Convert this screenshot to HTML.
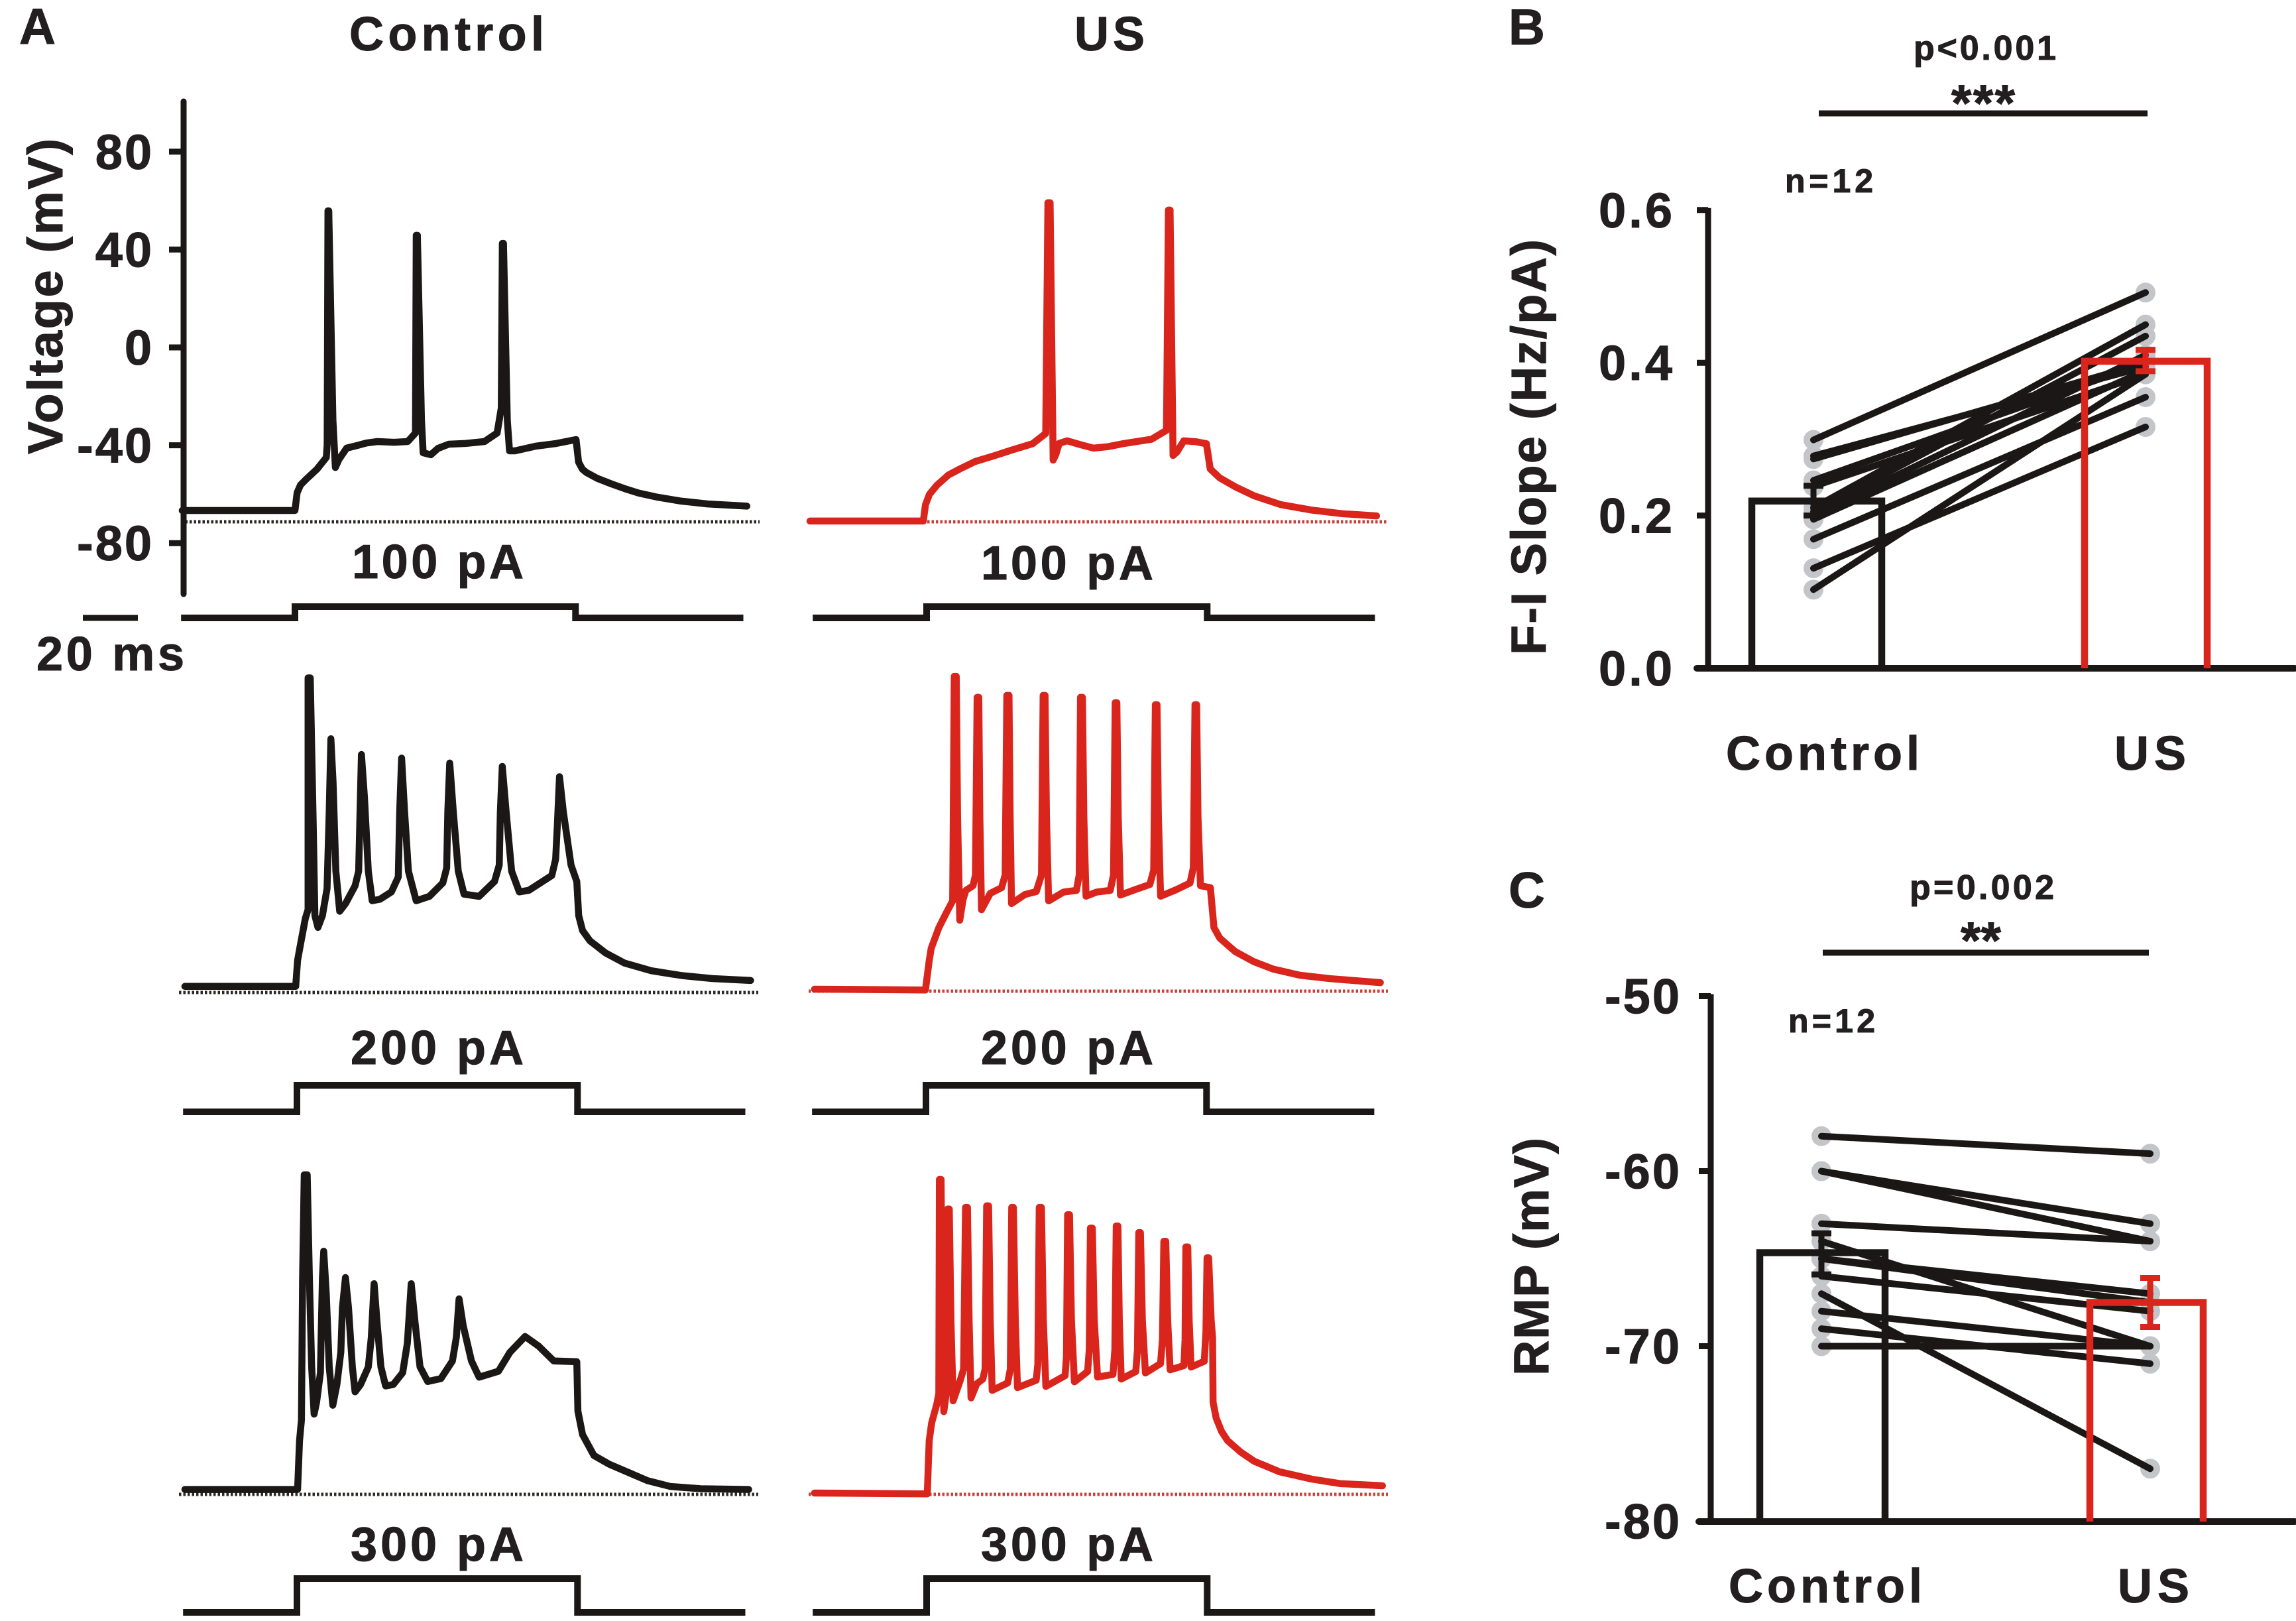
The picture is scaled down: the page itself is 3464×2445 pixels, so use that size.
<!DOCTYPE html>
<html lang="en">
<head>
<meta charset="utf-8">
<title>Current-clamp traces, F-I slope and RMP</title>
<style>
  html, body { margin: 0; padding: 0; background: #fff; }
  body { width: 3464px; height: 2445px; overflow: hidden; }
  svg { display: block; }
  text { font-family: "Liberation Sans", sans-serif; font-weight: bold; fill: #231f20; stroke: #231f20; stroke-width: 1; }
</style>
</head>
<body>
<svg id="figure" xmlns="http://www.w3.org/2000/svg" width="3464" height="2445" viewBox="0 0 3464 2445">
  <rect x="0" y="0" width="3464" height="2445" fill="#ffffff"/>

  <text x="29" y="66" font-size="76">A</text>
  <text x="2276" y="67" font-size="76">B</text>
  <text x="2276" y="1369" font-size="76">C</text>

  <text x="527" y="76" font-size="72" textLength="294" lengthAdjust="spacing">Control</text>
  <text x="1621" y="76" font-size="72" textLength="106" lengthAdjust="spacing">US</text>
  <text x="94" y="685" font-size="74" textLength="476" lengthAdjust="spacing" transform="rotate(-90 94 685)">Voltage (mV)</text>
  <text x="55" y="1011" font-size="72" textLength="223" lengthAdjust="spacing">20 ms</text>

  <text x="531" y="872" font-size="72" textLength="259" lengthAdjust="spacing">100 pA</text>
  <text x="529" y="1605" font-size="72" textLength="261" lengthAdjust="spacing">200 pA</text>
  <text x="529" y="2354" font-size="72" textLength="261" lengthAdjust="spacing">300 pA</text>
  <text x="1480" y="874" font-size="72" textLength="260" lengthAdjust="spacing">100 pA</text>
  <text x="1480" y="1605" font-size="72" textLength="260" lengthAdjust="spacing">200 pA</text>
  <text x="1480" y="2354" font-size="72" textLength="260" lengthAdjust="spacing">300 pA</text>

  <text x="2887" y="90" font-size="52" textLength="215" lengthAdjust="spacing">p&lt;0.001</text>
  <text x="2944" y="182" font-size="78" textLength="96" lengthAdjust="spacing">***</text>
  <line x1="2744" y1="171" x2="3240" y2="171" stroke="#1a1716" stroke-width="9"/>
  <text x="2693" y="290" font-size="50" textLength="133" lengthAdjust="spacing">n=12</text>
  <text x="2332" y="988" font-size="74" textLength="627" lengthAdjust="spacing" transform="rotate(-90 2332 988)">F-I Slope (Hz/pA)</text>
  <text x="2604" y="1161" font-size="72" textLength="292" lengthAdjust="spacing">Control</text>
  <text x="3190" y="1161" font-size="72" textLength="108" lengthAdjust="spacing">US</text>

  <text x="2881" y="1356" font-size="52" textLength="218" lengthAdjust="spacing">p=0.002</text>
  <text x="2958" y="1445" font-size="78" textLength="61" lengthAdjust="spacing">**</text>
  <line x1="2750" y1="1437" x2="3242" y2="1437" stroke="#1a1716" stroke-width="9"/>
  <text x="2698" y="1557" font-size="50" textLength="131" lengthAdjust="spacing">n=12</text>
  <text x="2336" y="2075" font-size="74" textLength="359" lengthAdjust="spacing" transform="rotate(-90 2336 2075)">RMP (mV)</text>
  <text x="2608" y="2417" font-size="72" textLength="292" lengthAdjust="spacing">Control</text>
  <text x="3195" y="2417" font-size="72" textLength="108" lengthAdjust="spacing">US</text>
</svg>

<script>
/* ---------- Panel A data: time (ms from stimulus onset) and membrane voltage (mV) ---------- */
const voltageTicks = [80, 40, 0, -40, -80];
const stimLevelsPa = [100, 235, 300];
const stimTiming = [-41.4, 0, 102, 163];
const restingLevelMv = -71.5;
const scaleBarMs = 20;

const control100Time = [-41,0,0.8,2,4,8,11.4,11.7,12,12.3,13.8,14.7,16,18.8,22,26,30,36,41,43.8,44.1,44.5,46,46.6,49.4,52,55.9,62,68.9,73.5,75,75.4,75.8,77.2,78,80,87.5,95,102.2,103.1,104.5,106,110,115,120,125,132,140,150,164.3];
const control100Volt = [-66.9,-66.9,-59.6,-56.5,-54.2,-50,-45.2,-40,55.6,55.6,-30,-49.3,-46,-41.4,-40.5,-39.3,-38.7,-39,-38.7,-35.2,45.6,45.6,-30,-43.3,-44.1,-41.5,-39.8,-39.5,-38.7,-35.2,-25,42.3,42.3,-30,-42.5,-42.5,-40.6,-39.5,-37.9,-47.1,-50,-51.4,-53.8,-56,-58,-59.8,-61.5,-63,-64.2,-65.1];

const us100Time = [-42.4,-1.2,-0.4,1,3.7,7.9,12.1,17.6,24.6,31.5,38.5,43.3,44.1,44.9,46,47,48.2,51.1,56,60.7,66,71.8,81.7,87.2,87.9,88.5,89.6,91,93.5,98,101.7,103.1,106.6,112.2,119.1,128.8,139.9,151,163.6];
const us100Volt = [-71.2,-71.2,-64.5,-60.3,-56.6,-52.4,-49.9,-46.9,-44.5,-42,-39.6,-35.4,58.9,58.9,-46.3,-44,-39.5,-38.4,-40,-41.4,-40.8,-39.5,-37.8,-34.1,55.9,55.9,-44.4,-43,-38.4,-38.8,-39.6,-49.9,-53.6,-57.2,-60.9,-64.5,-66.7,-68.2,-69.1];

const control200Time = [-41,-0.7,0,1,2.8,3.8,3.8,4.6,5.6,6.3,7.4,9,10.7,11.5,12.1,12.9,13.9,15.3,17.4,20.9,22.2,22.7,23.2,24.3,25.7,27.1,29.9,34.1,36.6,37.1,37.8,38.9,40.3,43.1,47.9,52.8,54.2,54.6,55.3,56.6,58.4,60.5,66,71.6,73.3,73.7,74.4,75.8,77.8,80.6,84.1,92.4,93.8,94.4,95.2,96.6,99.4,101.5,102.2,103.6,106.3,111.9,118.9,128.6,139.7,150.8,164.7];
const control200Volt = [-69,-69,-58.3,-52.2,-41.3,-37.6,57.1,57.1,2.4,-40.1,-44.9,-40.1,-29.1,2.4,32.2,14.6,-21.9,-38.3,-35.2,-27.9,-21.9,2.4,25.8,8.5,-21.9,-34,-33.4,-30.4,-24.3,2.4,24.3,2.4,-21.9,-34,-32.2,-26.7,-20.6,2.4,22.3,2.4,-21.9,-31.3,-32.2,-26.1,-19.4,2.4,20.9,2.4,-21.9,-30.4,-29.7,-23.7,-17,-3.6,16.7,2.4,-19.4,-26.1,-40.1,-46.2,-50.4,-55.3,-59.5,-62.6,-64.6,-65.8,-66.6];

const us200Time = [-40.5,-0.2,1.2,1.9,4.7,7.4,9.7,10.3,11,11.5,12.3,13.5,14.5,17.1,18,18.6,19.2,19.6,20.2,23.4,27.5,28.8,29.4,30.2,30.6,31.1,36,40.1,42,42.6,43.3,43.8,44.6,50,54.7,55.7,56.2,56.9,57.4,58.2,62,67,68.2,68.8,69.4,69.9,70.7,76,81.4,82.8,83.4,84,84.5,85.3,91,96,97.2,97.8,98.4,98.9,99.8,103.4,104.7,106.8,112.4,119.3,126.3,136,147.1,165.2];
const us200Volt = [-70.7,-71,-58.9,-54,-45.5,-39.5,-34.6,57.2,57.2,0,-42.5,-34,-30.3,-28.4,-24,48.6,48.6,0,-38.2,-31.5,-29.2,-24,49.4,49.4,0,-35.7,-32,-30.8,-24,49.4,49.4,0,-34.6,-31,-30.3,-24,48.6,48.6,0,-32.7,-31,-30.3,-24,46.4,46.4,0,-32.2,-30,-27.9,-22,45.6,45.6,0,-32.7,-30,-27.3,-21,45.6,45.6,0,-28.4,-29.2,-45.5,-49.8,-55.3,-59.5,-62.5,-65,-66.4,-68];

const control300Time = [-41,0,0.7,1.4,1.8,2.4,3.5,4.3,5.1,6,6.9,8.3,9,9.5,10.4,11.5,12.8,14.3,15.7,16.3,17.4,18.5,19.9,20.9,22.9,25.7,26.8,27.8,28.9,30.3,32,34.8,38.2,39.9,41.3,42.7,44.5,47.3,52.1,56.3,57.7,58.7,60.2,63.2,66,73,77.2,82.7,87.6,93.1,101.5,101.9,103.6,107.7,113.3,118.9,127.2,135.5,146.6,164];
const control300Volt = [-68.4,-68.4,-48.5,-40,17.9,60.2,60.2,17.9,-18.3,-37.6,-32.8,-20.7,17.9,29,11.9,-18.3,-34,-25.5,-12.3,5.9,18.2,5.9,-18.3,-28.5,-25.5,-18.3,-6.2,15.7,-0.2,-18.3,-26.1,-25.5,-20.7,-8.6,15.7,-0.2,-18.3,-24.3,-23.1,-15.9,-6.2,9.5,-1.4,-15.9,-22.5,-20.1,-12.3,-5.9,-9.8,-15.9,-16.2,-36.4,-46,-54.5,-58.1,-60.8,-64.8,-67.2,-68.1,-68.4];

const us300Time = [-41,0,0.7,1.6,3.5,4.2,4.4,5,5.5,6,6.9,7.4,8,8.6,9.4,12,13.2,13.9,14.6,15.2,15.9,18,20.2,21,21.6,22.3,22.9,23.6,29.2,30.2,30.7,31.3,32,32.8,39.6,40.2,40.7,41.5,42.2,43.1,50.1,50.6,51,51.7,52.4,53.5,58.3,58.9,59.3,60,60.7,61.9,67.5,68.2,68.7,69.3,69.8,70.5,75.8,76.4,76.9,77.5,78.2,79.3,84.8,85.5,86,86.7,87.4,88.3,93.3,93.7,94,94.7,95.2,95.9,100.7,101.3,101.7,102.3,103.2,103.7,103.9,105,107,109.2,114,118.9,128,139.8,150,165.5];
const us300Volt = [-70.7,-71,-49.3,-42,-34.2,-30,57.5,57.5,0,-37.4,-30,45.4,45.4,0,-33,-24.6,-20,46.1,46.1,0,-31.8,-26,-24.1,-20,46.7,46.7,0,-28.7,-25.7,-20,46.1,46.1,0,-27.6,-24.6,-18,46.1,46.1,0,-27.1,-22.7,-15,43.1,43.1,0,-25.2,-21,-12,37.6,37.6,0,-23.3,-22.2,-12,38.5,38.5,0,-24.1,-21,-12,35.8,35.8,0,-21.6,-17.8,-8,32.2,32.2,0,-20.3,-18.6,-8,29.9,29.9,0,-19.2,-16.8,-5,25.5,25.5,0,-7,-33.6,-40,-45.5,-49.3,-54,-57.7,-62,-65,-66.8,-67.7];

/* ---------- Panel B data: F-I slope (Hz/pA) ---------- */
const fiTicks = [0.6, 0.4, 0.2, 0.0];
const fiMeans = [0.219, 0.402];
const fiErrLow = [0.200, 0.389];
const fiErrHigh = [0.239, 0.417];
const fiControl = [0.299,0.278,0.274,0.246,0.238,0.21,0.205,0.20,0.195,0.169,0.131,0.103];
const fiUS = [0.492,0.395,0.40,0.40,0.385,0.45,0.435,0.41,0.39,0.355,0.316,0.385];

/* ---------- Panel C data: resting membrane potential (mV) ---------- */
const rmpTicks = [-50, -60, -70, -80];
const rmpMeans = [-64.66, -67.5];
const rmpErrLow = [-65.9, -68.9];
const rmpErrHigh = [-63.55, -66.1];
const rmpControl = [-58,-60,-60,-63,-64,-65,-65,-66,-67,-68,-69,-70];
const rmpUS = [-59,-63,-64,-64,-70,-67,-67.5,-68,-77,-70,-71,-70];

/* ---------- Drawing ---------- */
const SVGNS = 'http://www.w3.org/2000/svg';
const svg = document.getElementById('figure');
const INK = '#1a1716';
const RED = '#d9251c';
const GREY = '#c3c5c8';

function make(tag, attrs) {
  const el = document.createElementNS(SVGNS, tag);
  for (const k in attrs) el.setAttribute(k, attrs[k]);
  svg.appendChild(el);
  return el;
}
function polyPoints(pts) {
  return pts.map(function (p) { return p[0].toFixed(1) + ',' + p[1].toFixed(1); }).join(' ');
}

/* Panel A axes */
const pxPerMs = 4.15;
const pxPerMv = 3.69;
const axisAY = function (v) { return 523 - v * pxPerMv; };

const columns = [
  { key: 'control', color: INK, dotColor: '#2b2826', onset: [445, 449, 449], rest: [787, 1497, 2258], dotY: [787, 1497, 2254], dotFrom: [273, 270, 270], dotTo: [1146, 1144, 1144], stimOnset: [445, 448, 448] },
  { key: 'us', color: RED, dotColor: '#c8413a', onset: [1398, 1397, 1399], rest: [787, 1495, 2255], dotY: [787, 1495, 2254], dotFrom: [1399, 1220, 1220], dotTo: [2094, 2094, 2094], stimOnset: [1398, 1397, 1398] }
];
const stimLowY = [932, 1677, 2432];
const stimPxPerPa = 0.17;
const traces = {
  control: [[control100Time, control100Volt], [control200Time, control200Volt], [control300Time, control300Volt]],
  us: [[us100Time, us100Volt], [us200Time, us200Volt], [us300Time, us300Volt]]
};

columns.forEach(function (col) {
  stimLevelsPa.forEach(function (level, row) {
    const xScale = function (t) { return col.onset[row] + t * pxPerMs; };
    const yScale = function (v) { return col.rest[row] - (v - restingLevelMv) * pxPerMv; };

    const dotted = make('line', { x1: col.dotFrom[row], y1: col.dotY[row], x2: col.dotTo[row], y2: col.dotY[row], stroke: col.dotColor, 'stroke-width': 5, 'stroke-dasharray': '3.5 3' });
    
    

    const tr = traces[col.key][row];
    const pts = tr[0].map(function (t, i) { return [xScale(t), yScale(tr[1][i])]; });
    const line = make('polyline', { points: polyPoints(pts), fill: 'none', stroke: col.color, 'stroke-width': 10.5, 'stroke-linejoin': 'round', 'stroke-linecap': 'round' });
    
    

    const sx = function (t) { return col.stimOnset[row] + t * pxPerMs; };
    const low = stimLowY[row];
    const high = low - level * stimPxPerPa;
    const stimPts = [[sx(stimTiming[0]), low], [sx(stimTiming[1]), low], [sx(stimTiming[1]), high], [sx(stimTiming[2]), high], [sx(stimTiming[2]), low], [sx(stimTiming[3]), low]];
    const stim = make('polyline', { points: polyPoints(stimPts), fill: 'none', stroke: INK, 'stroke-width': 10, 'stroke-linejoin': 'miter' });
    
    
  });
});

const axisA = make('line', { x1: 277, y1: 153, x2: 277, y2: 896, stroke: INK, 'stroke-width': 9, 'stroke-linecap': 'round' });



voltageTicks.forEach(function (v) {
  const y = axisAY(v) + 1;
  const tick = make('line', { x1: 255, y1: y, x2: 277, y2: y, stroke: INK, 'stroke-width': 9 });
  
  
  const label = make('text', { x: 232, y: y + 26, 'font-size': 74, 'text-anchor': 'end', 'letter-spacing': 3 });
  label.textContent = String(v);
  
  
});

const scaleBar = make('line', { x1: 125, y1: 932, x2: 125 + scaleBarMs * pxPerMs, y2: 932, stroke: INK, 'stroke-width': 9 });



/* Panels B and C */
function drawPaired(cfg) {
  const y = cfg.y;
  const axis = make('line', { x1: cfg.axisX, y1: y(cfg.ticks[0]) - 3, x2: cfg.axisX, y2: cfg.y0, stroke: INK, 'stroke-width': 9 });
  
  

  const xAxis = make('line', { x1: cfg.tickX, y1: cfg.y0, x2: 3462, y2: cfg.y0, stroke: INK, 'stroke-width': 10, 'stroke-linecap': 'round' });
  
  

  cfg.ticks.forEach(function (v) {
    const ty = y(v);
    const tick = make('line', { x1: cfg.tickX, y1: ty, x2: cfg.axisX, y2: ty, stroke: INK, 'stroke-width': 9 });
    
    
    const label = make('text', { x: cfg.labelX, y: ty + 26, 'font-size': 74, textLength: cfg.labelLen, lengthAdjust: 'spacing' });
    label.textContent = cfg.format(v);
    
    
  });

  cfg.a.forEach(function (v) {
    const c = make('circle', { cx: cfg.x[0], cy: y(v), r: 15, fill: GREY });
    
    
  });
  cfg.b.forEach(function (v) {
    const c = make('circle', { cx: cfg.x[1], cy: y(v), r: 15, fill: GREY });
    
    
  });
  cfg.a.forEach(function (v, i) {
    const l = make('line', { x1: cfg.x[0], y1: y(v), x2: cfg.x[1], y2: y(cfg.b[i]), stroke: INK, 'stroke-width': 10, 'stroke-linecap': 'round' });
    
    
  });

  cfg.means.forEach(function (m, i) {
    const color = i === 0 ? INK : RED;
    const top = y(m);
    const edges = cfg.bars[i];
    const bar = make('polyline', { points: polyPoints([[edges[0], cfg.y0], [edges[0], top], [edges[1], top], [edges[1], cfg.y0]]), fill: 'none', stroke: color, 'stroke-width': 10.5, 'stroke-linejoin': 'miter' });
    
    

    const cx = cfg.x[i];
    const yl = y(cfg.errLow[i]);
    const yh = y(cfg.errHigh[i]);
    const err = make('path', { d: 'M' + (cx - 15) + ' ' + yh + 'H' + (cx + 15) + 'M' + cx + ' ' + yh + 'V' + yl + 'M' + (cx - 15) + ' ' + yl + 'H' + (cx + 15), fill: 'none', stroke: color, 'stroke-width': 9 });
    
    
  });
}

drawPaired({
  prefix: 'fi',
  y: function (v) { return 1008 - v * 1152; },
  y0: 1008, axisX: 2577, tickX: 2560, labelX: 2412, labelLen: 111,
  ticks: fiTicks, format: function (v) { return v.toFixed(1); },
  x: [2736, 3237], bars: [[2643, 2839], [3145, 3330]],
  means: fiMeans, errLow: fiErrLow, errHigh: fiErrHigh, a: fiControl, b: fiUS
});

drawPaired({
  prefix: 'rmp',
  y: function (v) { return 1502.5 + (-50 - v) * 26.4; },
  y0: 2295, axisX: 2581, tickX: 2563, labelX: 2421, labelLen: 113,
  ticks: rmpTicks, format: function (v) { return String(v); },
  x: [2748, 3244], bars: [[2655, 2844], [3153, 3324]],
  means: rmpMeans, errLow: rmpErrLow, errHigh: rmpErrHigh, a: rmpControl, b: rmpUS
});
</script>
</body>
</html>
